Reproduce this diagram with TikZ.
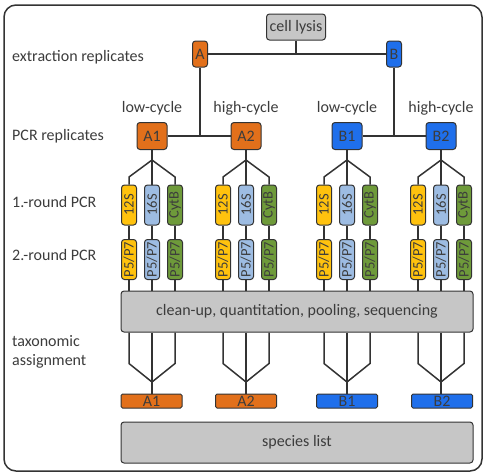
\documentclass[tikz,border=0pt]{standalone}
\usepackage{fontspec}
\setmainfont{Carlito}
\usetikzlibrary{positioning}
\definecolor{txtgray}{HTML}{3C3C3C}
\definecolor{edgegray}{HTML}{333333}
\definecolor{boxgray}{HTML}{C6C6C6}
\definecolor{extorange}{HTML}{E2701B}
\definecolor{extblue}{HTML}{1F6FEB}
\definecolor{mkyellow}{HTML}{FFC20E}
\definecolor{mkblue}{HTML}{9DBCE2}
\definecolor{mkgreen}{HTML}{6E9A3A}

\begin{document}
\begin{tikzpicture}[x=1pt,y=-1pt,
	font=\fontsize{16}{19}\selectfont, text=txtgray,
	frame/.style={draw=edgegray, line width=1.5pt, rounded corners=12pt},
	box/.style={draw=edgegray, line width=1pt, rounded corners=3pt, inner sep=0pt, align=center},
	greybox/.style={box, fill=boxgray},
	orangebox/.style={box, fill=extorange},
	bluebox/.style={box, fill=extblue},
	marker/.style={box, rotate=90, minimum width=40pt, minimum height=15pt,
		font=\fontsize{14.5}{16}\selectfont},
	resbox/.style={box, rounded corners=1.5pt, minimum width=61pt, minimum height=14pt},
	conn/.style={draw=edgegray, line width=1.5pt},
	rowlabel/.style={anchor=west, align=left, inner sep=0pt}]
	
	\useasboundingbox (0,0) rectangle (486,475);
	\draw[frame] (4,5) rectangle (482,471);
	
	% row labels
	\node[rowlabel] (lab-ext) at (12,57) {extraction replicates};
	\node[rowlabel] (lab-pcr) at (12,136) {PCR replicates};
	\node[rowlabel] (lab-r1) at (12,202) {1.-round PCR};
	\node[rowlabel] (lab-r2) at (12,255) {2.-round PCR};
	\node[rowlabel] (lab-tax) at (12,352) {taxonomic\\assignment};
	
	% extraction
	\node[greybox, minimum width=59pt, minimum height=26pt] (lysis) at (296,27) {cell lysis};
	\node[orangebox, minimum width=15pt, minimum height=26pt] (A) at (200,54) {A};
	\node[bluebox, minimum width=15pt, minimum height=26pt] (B) at (394,54) {B};
	\draw[conn] (A) -- (B);
	\draw[conn] (lysis) -- (lysis |- A);
	
	% PCR replicates
	\foreach \grp/\xc/\col/\cyc in {A1/152/orangebox/low,A2/246/orangebox/high,
		B1/347/bluebox/low,B2/441/bluebox/high} {
		\node[\col, minimum width=30pt, minimum height=27pt] (\grp) at (\xc,136) {\grp};
		\node (cyc-\grp) at (\xc,108) {\cyc-cycle};
	}
	\draw[conn] (A1) -- (A2);
	\draw[conn] (B1) -- (B2);
	\draw[conn] (A) -- (A |- A1);
	\draw[conn] (B) -- (B |- B1);
	
	% pooling and result boxes
	\node[greybox, minimum width=352pt, minimum height=41pt] (clean) at (297,311.5)
		{clean-up, quantitation, pooling, sequencing};
	\node[greybox, minimum width=352pt, minimum height=41pt] (species) at (297,442.5) {species list};
	
	\foreach \grp/\xc/\rx/\col in {A1/152/151.5/orangebox,A2/246/246/orangebox,
		B1/347/347/bluebox,B2/441/442/bluebox} {
		\node[\col, resbox] (res-\grp) at (\rx,401) {\grp};
		\coordinate (\grp-top) at (\xc,160);
		\coordinate (\grp-bot) at (\xc,382);
		\draw[conn] (\grp) -- (\grp-top);
		\draw[conn] (\grp-bot) -- (\grp-bot |- res-\grp.north);
		\foreach \m/\dx/\mc in {12S/-23/mkyellow,16S/0/mkblue,CytB/23/mkgreen} {
			\node[marker, fill=\mc] (\grp-\m) at (\xc+\dx,205) {\m};
			\node[marker, fill=\mc] (\grp-\m-p) at (\xc+\dx,259.5) {P5/P7};
			\draw[conn] (\grp-top) -- ++(\dx,17) -- (\grp-\m.east);
			\draw[conn] (\grp-\m.west) -- (\grp-\m-p.east);
			\draw[conn] (\grp-\m-p.west) -- (\grp-\m-p.west |- clean.north);
			\draw[conn] (clean.south -| \grp-\m-p.west) -- ++(0,31) -- (\grp-bot);
		}
	}
\end{tikzpicture}
\end{document}
